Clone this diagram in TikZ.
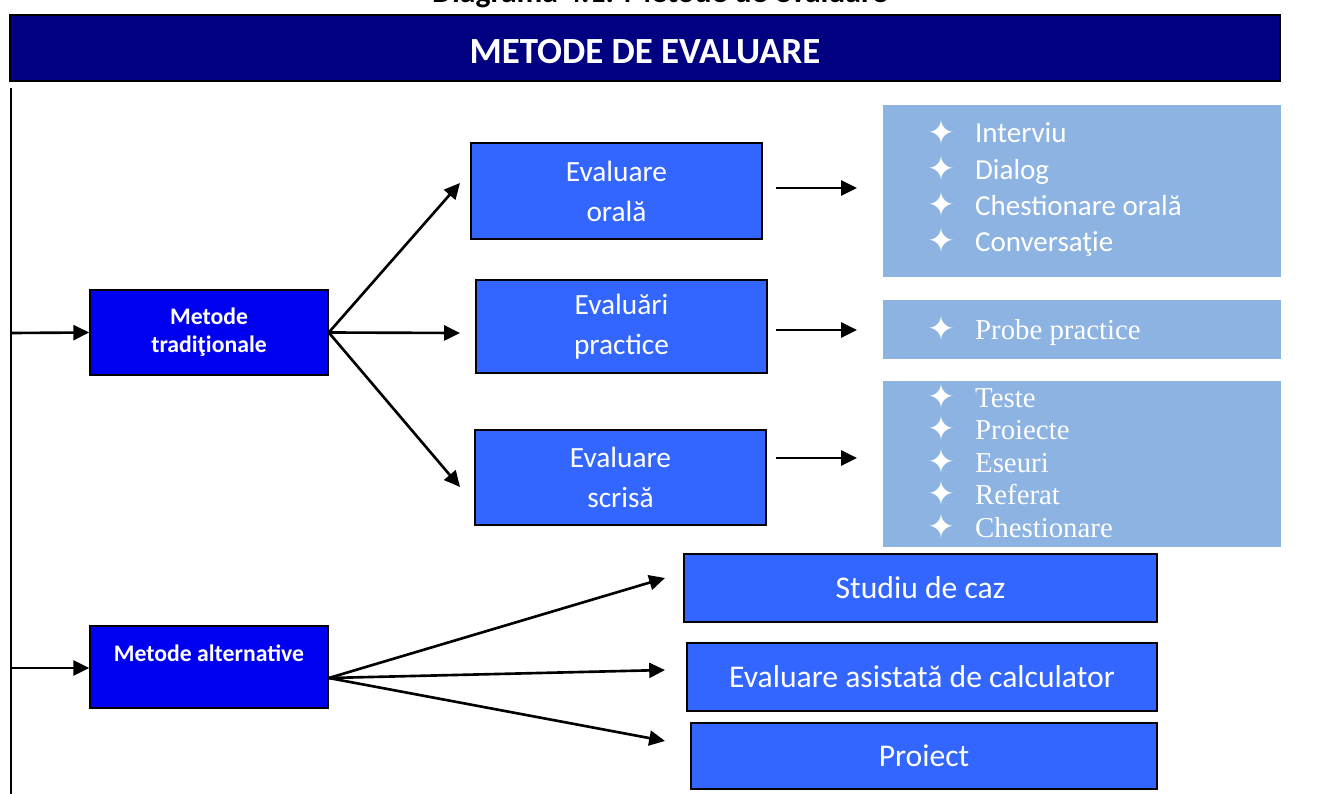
\documentclass[tikz,border=0pt]{standalone}
\usepackage{fontspec}
\setmainfont{Carlito}
\newfontfamily\timesf{Liberation Serif}
\newfontfamily\symf{DejaVu Sans}
\usetikzlibrary{arrows.meta,calc}
\definecolor{navybar}{HTML}{000080}
\definecolor{tradblue}{HTML}{0000F0}
\definecolor{evalblue}{HTML}{3366FF}
\definecolor{listblue}{HTML}{8DB3E2}
\newcommand{\strmark}{\raisebox{-1pt}{\symf\fontsize{19}{19}\selectfont ✦}}
\begin{document}
\begin{tikzpicture}[x=0.02cm,y=-0.02cm,
  titlebar/.style={draw=black,line width=1.5pt,fill=navybar,text=white,font=\bfseries\fontsize{21}{25}\selectfont,minimum width=25.4cm,minimum height=1.32cm,inner sep=0},
  mainbox/.style={draw=black,line width=0.9pt,fill=tradblue,text=white,align=center,font=\bfseries\fontsize{13.5}{16}\selectfont,minimum width=4.76cm,inner sep=0},
  evalbox/.style={draw=black,line width=0.9pt,fill=evalblue,text=white,align=center,font=\fontsize{16.7}{22.7}\selectfont,minimum width=5.82cm,inner sep=0},
  altbox/.style={draw=black,line width=0.9pt,fill=evalblue,text=white,align=center,font=\fontsize{18}{22}\selectfont,inner sep=0},
  listbox/.style={fill=listblue,draw=none,minimum width=7.96cm,inner sep=0},
  sansitem/.style={anchor=base west,inner sep=0,text=white,font=\fontsize{16.5}{20}\selectfont},
  serifitem/.style={anchor=base west,inner sep=0,text=white,font=\timesf\fontsize{16.4}{18}\selectfont},
  conn/.style={line width=1.5pt,-{Triangle[length=9pt,width=8.5pt]}},
  plainline/.style={line width=1.1pt}]
\clip (0,0) rectangle (1322,794);
\fill[white] (0,0) rectangle (1322,794);

% caption (cut off at top, as in the reference)
\node[anchor=base,inner sep=0,font=\bfseries\fontsize{18}{20}\selectfont] (caption) at (660,3) {Diagrama 4.1. Metode de evaluare};

% header
\node[titlebar] (head) at (645,48) {\raisebox{-2pt}[\height][\depth]{METODE DE EVALUARE}};

% left spine
\coordinate (spinetop) at (11,88);
\coordinate (spinebot) at (11,800);
\draw[plainline] (spinetop) -- (spinebot);

% main method boxes
\node[mainbox,minimum height=1.7cm] (trad) at (209,332.5) {Metode\\tradiţionale};
\node[mainbox,minimum height=1.64cm] (alt) at (209,667) {Metode alternative\\\mbox{}};

\coordinate (sp1) at (11,333);
\coordinate (sp2) at (11,668);
\draw[conn] (sp1) -- (trad.west);
\draw[conn] (sp2) -- (trad.west |- sp2);

% evaluation boxes
\node[evalbox,minimum height=1.92cm] (orala) at (616.5,191) {Evaluare\\orală};
\node[evalbox,minimum height=1.86cm] (practice) at (621.5,326.5) {Evaluări\\practice};
\node[evalbox,minimum height=1.9cm] (scrisa) at (620.5,477.5) {Evaluare\\scrisă};

\coordinate (t1) at (460,183);
\coordinate (t2) at (460,333);
\coordinate (t3) at (460,487);
\draw[conn] (trad.east) -- (t1);
\draw[conn] (trad.east) -- (t2);
\draw[conn] (trad.east) -- (t3);

% list boxes
\node[listbox,minimum height=3.44cm] (list1) at (1082,191) {};
\node[listbox,minimum height=1.18cm] (list2) at (1082,329.5) {};
\node[listbox,minimum height=3.32cm] (list3) at (1082,464) {};

\coordinate (o1) at (776,188); \coordinate (o2) at (857,188);
\coordinate (p1) at (776,330); \coordinate (p2) at (857,330);
\coordinate (s1) at (776,458); \coordinate (s2) at (857,458);
\draw[conn] (o1) -- (o2);
\draw[conn] (p1) -- (p2);
\draw[conn] (s1) -- (s2);

% list items
\node[sansitem] (i1) at (927,143) {\makebox[27.2pt][l]{\strmark}Interviu};
\node[sansitem] (i2) at (927,179) {\makebox[27.2pt][l]{\strmark}Dialog};
\node[sansitem] (i3) at (927,215) {\makebox[27.2pt][l]{\strmark}Chestionare orală};
\node[sansitem] (i4) at (927,251) {\makebox[27.2pt][l]{\strmark}Conversaţie};

\node[serifitem] (pp) at (927,339) {\makebox[27.2pt][l]{\strmark}Probe practice};

\node[serifitem] (w1) at (927,407) {\makebox[27.2pt][l]{\strmark}Teste};
\node[serifitem] (w2) at (927,439) {\makebox[27.2pt][l]{\strmark}Proiecte};
\node[serifitem] (w3) at (927,472) {\makebox[27.2pt][l]{\strmark}Eseuri};
\node[serifitem] (w4) at (927,504) {\makebox[27.2pt][l]{\strmark}Referat};
\node[serifitem] (w5) at (927,537) {\makebox[27.2pt][l]{\strmark}Chestionare};

% alternative method boxes
\node[altbox,minimum width=9.46cm,minimum height=1.36cm] (studiu) at (920.5,588) {Studiu de caz};
\node[altbox,minimum width=9.4cm,minimum height=1.36cm] (asist) at (922,677) {Evaluare asistată de calculator};
\node[altbox,minimum width=9.32cm,minimum height=1.32cm] (proiect) at (924,756) {Proiect};

\coordinate (altout) at ($(alt.east)+(0,11)$);
\coordinate (a1) at (665,578);
\coordinate (a2) at (665,670);
\coordinate (a3) at (665,741);
\draw[conn] (altout) -- (a1);
\draw[conn] (altout) -- (a2);
\draw[conn] (altout) -- (a3);
\end{tikzpicture}
\end{document}
